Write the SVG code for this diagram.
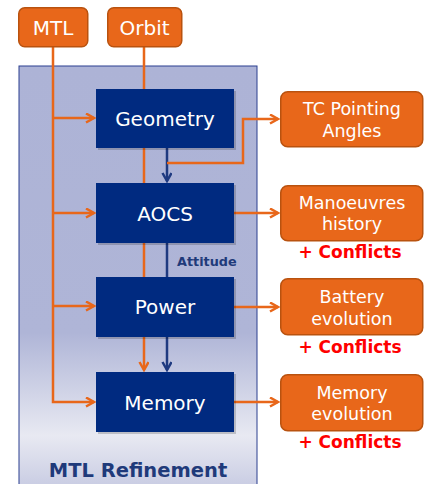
<svg xmlns="http://www.w3.org/2000/svg" width="424" height="484" viewBox="0 0 424 484">
<defs>
<linearGradient id="pg" x1="0" y1="0" x2="0" y2="1">
<stop offset="0" stop-color="#ADB3D6"/>
<stop offset="0.62" stop-color="#AFB5D7"/>
<stop offset="0.86" stop-color="#E8E9F2"/>
<stop offset="1" stop-color="#C3C7E0"/>
</linearGradient>
<marker id="ao" markerWidth="12" markerHeight="12" refX="9" refY="5" orient="auto" markerUnits="userSpaceOnUse">
<path d="M1,0.5 L9,5 L1,9.5" fill="none" stroke="#E8671A" stroke-width="2.5"/>
</marker>
<marker id="an" markerWidth="12" markerHeight="12" refX="9" refY="5" orient="auto" markerUnits="userSpaceOnUse">
<path d="M1,0.5 L9,5 L1,9.5" fill="none" stroke="#1F3A80" stroke-width="2.5"/>
</marker>
</defs>
<style>
.ob{fill:#E8671A;stroke:#B9520F;stroke-width:1.5}
.nb{fill:#002A80}
.sh{fill:#000;opacity:0.18}
.t{font-family:"DejaVu Sans",Verdana,sans-serif;fill:#fff;text-anchor:middle}
.tb{font-size:20px}
.tr{font-size:17.5px}
.cf{font-family:"DejaVu Sans",Verdana,sans-serif;font-weight:bold;font-size:17px;fill:#FF0000;text-anchor:middle}
.ol{fill:none;stroke:#E8671A;stroke-width:2.5}
.nl{fill:none;stroke:#1F3A80;stroke-width:2.5}
</style>
<rect id="panel" x="19" y="66" width="238" height="430" fill="url(#pg)" stroke="#2B3F8F" stroke-width="1"/>
<text x="138" y="477" font-family="DejaVu Sans,Verdana,sans-serif" font-weight="bold" font-size="19.5" fill="#1F3A7A" text-anchor="middle">MTL Refinement</text>

<g id="connectors">
<path class="ol" d="M53,47 V402 H94" marker-end="url(#ao)"/>
<path class="ol" d="M53,118 H94" marker-end="url(#ao)"/>
<path class="ol" d="M53,213 H94" marker-end="url(#ao)"/>
<path class="ol" d="M53,306 H94" marker-end="url(#ao)"/>
<path class="ol" d="M144,47 V370" marker-end="url(#ao)"/>
<path class="nl" d="M167,148 V181" marker-end="url(#an)"/>
<path class="nl" d="M167,243 V277"/>
<path class="nl" d="M167,337 V370" marker-end="url(#an)"/>
<path class="ol" d="M167,163 H243 V119 H278" marker-end="url(#ao)"/>
<path class="ol" d="M234,213 H278" marker-end="url(#ao)"/>
<path class="ol" d="M234,307 H278" marker-end="url(#ao)"/>
<path class="ol" d="M234,402 H278" marker-end="url(#ao)"/>
<text x="177" y="266" font-family="DejaVu Sans,Verdana,sans-serif" font-weight="bold" font-size="12.8" fill="#1F3A7A">Attitude</text>
</g>

<g id="mtl"><rect class="ob" x="18.75" y="7.75" width="69" height="39" rx="6"/><text class="t tb" x="53" y="34.5">MTL</text></g>
<g id="orbit"><rect class="ob" x="107.75" y="7.75" width="74" height="39" rx="6"/><text class="t tb" x="144.5" y="34.5">Orbit</text></g>

<g id="geometry"><rect class="sh" x="98" y="91" width="138" height="59"/><rect class="nb" x="96" y="89" width="138" height="59"/><text class="t tb" x="165" y="125.5">Geometry</text></g>
<g id="aocs"><rect class="sh" x="98" y="185" width="138" height="60"/><rect class="nb" x="96" y="183" width="138" height="60"/><text class="t tb" x="165" y="220.5">AOCS</text></g>
<g id="power"><rect class="sh" x="98" y="279" width="138" height="60"/><rect class="nb" x="96" y="277" width="138" height="60"/><text class="t tb" x="165" y="314">Power</text></g>
<g id="memory"><rect class="sh" x="98" y="374" width="138" height="60"/><rect class="nb" x="96" y="372" width="138" height="60"/><text class="t tb" x="165" y="410">Memory</text></g>

<g id="tc"><rect class="ob" x="280.75" y="91.75" width="142" height="55" rx="7"/><text class="t tr" x="352" y="115">TC Pointing</text><text class="t tr" x="352" y="137">Angles</text></g>
<g id="manoeuvres"><rect class="ob" x="280.75" y="185.75" width="142" height="55" rx="7"/><text class="t tr" x="352" y="209">Manoeuvres</text><text class="t tr" x="352" y="230">history</text><text class="cf" x="350" y="258">+ Conflicts</text></g>
<g id="battery"><rect class="ob" x="280.75" y="278.75" width="142" height="56" rx="7"/><text class="t tr" x="352" y="303">Battery</text><text class="t tr" x="352" y="325">evolution</text><text class="cf" x="350" y="353">+ Conflicts</text></g>
<g id="memevo"><rect class="ob" x="280.75" y="374.75" width="142" height="56" rx="7"/><text class="t tr" x="352" y="399">Memory</text><text class="t tr" x="352" y="420">evolution</text><text class="cf" x="350" y="448">+ Conflicts</text></g>
</svg>
